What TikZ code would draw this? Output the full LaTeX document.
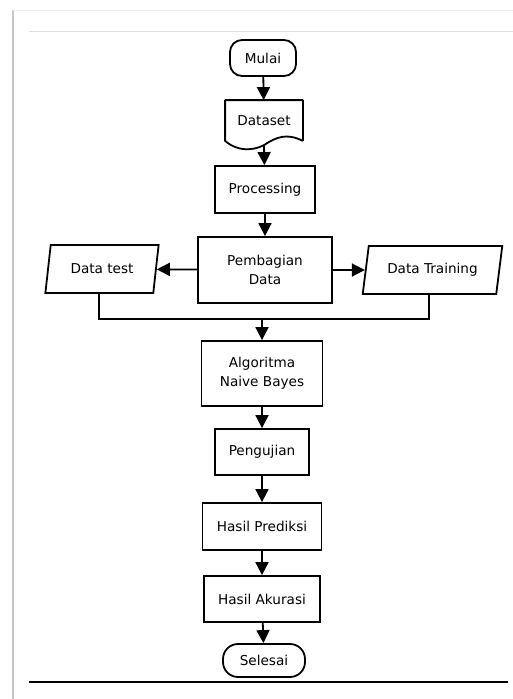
\documentclass[tikz,border=0pt]{standalone}
\usepackage{fontspec}
\setmainfont{DejaVu Sans}
\usetikzlibrary{shapes,arrows.meta,positioning,calc}

\begin{document}
\begin{tikzpicture}[x=1pt, y=-1pt, font=\fontsize{13.6}{19}\selectfont,
  box/.style={draw, line width=1.8pt, align=center, inner sep=0pt},
  io/.style={draw, line width=1.8pt, trapezium, trapezium left angle=72, trapezium right angle=108, trapezium stretches=true, inner sep=0pt},
  arr/.style={line width=1.8pt, -{Triangle[length=13pt, width=13pt]}}]
\useasboundingbox (0,0) rectangle (513,699);

% bingkai
\draw[gray!45, line width=2.5pt] (13,10) -- (13,699);
\draw[gray!15, line width=1pt] (13,10) -- (513,10);
\draw[gray!25, line width=1pt] (29,31) -- (513,31);
\draw[black, line width=2pt] (29,682) -- (508,682);

% alur utama
\node[box, rounded corners=12pt, minimum width=66pt, minimum height=36pt] (mulai) at (263,58) {Mulai};
\node[box, draw=none, minimum width=76pt, minimum height=39pt] (dataset) at (264,120.5) {Dataset};
\draw[line width=1.8pt, line join=round] (dataset.south east) -- (dataset.north east) -- (dataset.north west) -- (dataset.south west)
  .. controls ($(dataset.south west)+(14,12)$) and ($(dataset.south west)+(32,10)$) .. ($(dataset.south west)+(44,1)$)
  .. controls ($(dataset.south west)+(56,-6)$) and ($(dataset.south west)+(66,-6)$) .. (dataset.south east);
\coordinate (datasetbawah) at ($(dataset.south)+(0,5)$);
\node[box, minimum width=100pt, minimum height=47pt] (processing) at (265,189.5) {Processing};
\node[box, minimum width=134pt, minimum height=66pt] (pembagian) at (265,270) {Pembagian\\Data};

% pembagian data
\node[io, minimum width=114pt, minimum height=48pt] (datatest) at (102,269) {Data test};
\node[io, minimum width=141pt, minimum height=48pt] (datatrain) at (432.5,270) {Data Training};

% model dan hasil
\node[box, minimum width=121pt, minimum height=65pt] (algoritma) at (262,373.5) {Algoritma\\Naive Bayes};
\node[box, minimum width=94pt, minimum height=46pt] (pengujian) at (262,452) {Pengujian};
\node[box, minimum width=119pt, minimum height=47pt] (prediksi) at (262,526.5) {Hasil Prediksi};
\node[box, minimum width=116pt, minimum height=46pt] (akurasi) at (262,599) {Hasil Akurasi};
\node[box, rounded corners=15pt, minimum width=82pt, minimum height=33pt] (selesai) at (264,660.5) {Selesai};

% panah
\draw[arr] (mulai) -- (dataset);
\draw[arr] (datasetbawah) -- (processing);
\draw[arr] (processing) -- (pembagian);
\draw[arr] (pembagian) -- (datatest);
\draw[arr] (pembagian) -- (datatrain);
\coordinate (gabung) at (262,319);
\draw[line width=1.8pt] (datatest.bottom side) |- (gabung) -| (datatrain.bottom side);
\draw[arr] (gabung) -- (algoritma);
\draw[arr] (algoritma) -- (pengujian);
\draw[arr] (pengujian) -- (prediksi);
\draw[arr] (prediksi) -- (akurasi);
\draw[arr] (akurasi) -- (selesai);
\end{tikzpicture}
\end{document}
